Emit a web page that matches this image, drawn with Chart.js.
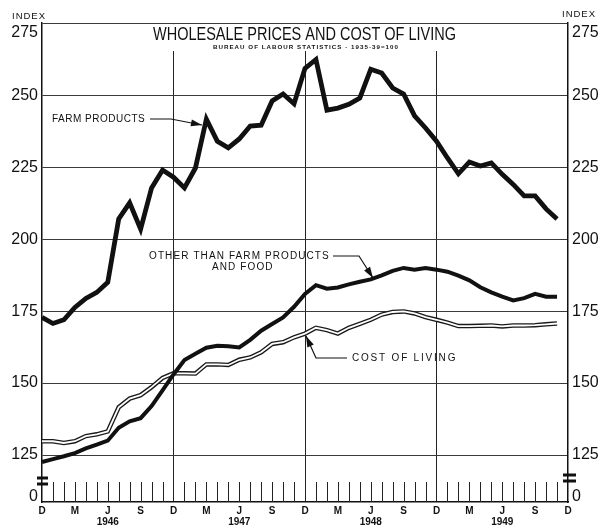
<!DOCTYPE html>
<html>
<head>
<meta charset="utf-8">
<script src="https://cdn.jsdelivr.net/npm/chart.js@4.4.0/dist/chart.umd.min.js"></script>
<style>
body { margin: 0; background: #fff; }
</style>
</head>
<body>
<canvas id="mycanvas" width="609" height="529"></canvas>
<script>
// months Dec 1945 .. Dec 1949
var monthNames = ['Jan','Feb','Mar','Apr','May','Jun','Jul','Aug','Sep','Oct','Nov','Dec'];
var months = ['Dec 1945'];
for (var yr = 1946; yr <= 1949; yr++) {
	for (var m = 0; m < 12; m++) months.push(monthNames[m] + ' ' + yr);
}

var farmProducts = [172.8,170.7,172.0,176.3,179.4,181.5,185.0,207.0,212.6,203.5,
	217.8,224.0,221.5,217.8,224.7,241.7,234.0,231.7,234.8,239.3,
	239.6,248.0,250.4,247.0,259.3,262.4,244.8,245.5,246.8,249.0,
	259.0,257.7,252.5,250.4,242.8,238.6,234.0,228.2,222.7,226.8,
	225.4,226.5,222.5,219.0,215.0,215.0,210.5,207.0];
var otherThanFarm = [122.6,123.6,124.6,125.7,127.3,128.6,130.0,134.5,136.7,137.8,
	142.0,147.5,153.0,158.0,160.2,162.3,163.0,162.8,162.4,165.0,
	168.2,170.5,172.8,176.5,181.0,184.0,182.8,183.2,184.3,185.2,
	186.0,187.4,189.0,190.0,189.4,190.0,189.4,188.7,187.3,185.7,
	183.3,181.5,180.0,178.7,179.5,181.0,180.0,180.0];
var costOfLiving = [129.8,129.8,129.2,129.8,131.6,132.2,133.2,141.6,144.6,145.8,
	148.6,151.8,153.4,153.4,153.3,156.5,156.5,156.3,158.1,158.9,
	160.7,163.6,164.2,165.9,167.2,169.2,168.4,167.2,169.2,170.6,
	172.0,173.8,174.7,174.9,174.2,172.9,172.0,171.0,169.8,169.8,
	169.9,170.0,169.7,170.0,170.0,170.1,170.4,170.7];

var yTicks = [0, 125, 150, 175, 200, 225, 250, 275];
var yMin = 108.7, yMax = 275, zeroPos = 110.5; // broken axis: "0" sits just above the bottom

Chart.defaults.font.family = "'Liberation Sans', Arial, sans-serif";
Chart.defaults.color = '#111';

function monthLabel(i) {
	var lab = months[i];
	if (!lab) return '';
	var mon = lab.slice(0, 3);
	if (mon === 'Dec') return 'D';
	if (mon === 'Mar') return 'M';
	if (mon === 'Jun') return ['J', lab.slice(4)];
	if (mon === 'Sep') return 'S';
	return '';
}

function yAxis(pos, w) {
	return {
		type: 'linear',
		position: pos,
		min: yMin,
		max: yMax,
		afterBuildTicks: function(scale) {
			scale.ticks = yTicks.map(function(v){ return { value: v === 0 ? zeroPos : v }; });
		},
		afterFit: function(scale) { scale.width = w; },
		ticks: {
			padding: 4,
			font: { size: 16 },
			color: '#111',
			callback: function(value) {
				if (value === zeroPos) return '0';
				if (value === 275) return ['', '275'];
				return String(value);
			}
		},
		grid: {
			display: pos === 'left',
			drawTicks: false,
			color: function(ctx) {
				return ctx.tick && ctx.tick.value === zeroPos ? 'rgba(0,0,0,0)' : '#3a3a3a';
			},
			lineWidth: 1
		},
		border: { display: true, color: '#111', width: 1.5 }
	};
}

function arrow(ctx, pts) {
	ctx.beginPath();
	ctx.moveTo(pts[0][0], pts[0][1]);
	for (var i = 1; i < pts.length; i++) ctx.lineTo(pts[i][0], pts[i][1]);
	ctx.stroke();
	var a = pts[pts.length - 2], b = pts[pts.length - 1];
	var ang = Math.atan2(b[1] - a[1], b[0] - a[0]);
	var len = 11, wid = 3.5;
	ctx.beginPath();
	ctx.moveTo(b[0], b[1]);
	ctx.lineTo(b[0] - len * Math.cos(ang) - wid * Math.sin(ang), b[1] - len * Math.sin(ang) + wid * Math.cos(ang));
	ctx.lineTo(b[0] - len * Math.cos(ang) + wid * Math.sin(ang), b[1] - len * Math.sin(ang) - wid * Math.cos(ang));
	ctx.closePath();
	ctx.fill();
}

function squeezeText(ctx, text, cx, cy, targetW) {
	var w = ctx.measureText(text).width;
	ctx.save();
	ctx.translate(cx, cy);
	ctx.scale(targetW / w, 1);
	ctx.textAlign = 'center';
	ctx.textBaseline = 'middle';
	ctx.fillText(text, 0, 0);
	ctx.restore();
}

var decor = {
	id: 'decor',
	beforeDatasetsDraw: function(chart) {
		var ctx = chart.ctx, area = chart.chartArea, xs = chart.scales.x;
		ctx.save();
		// blank band under the title
		ctx.fillStyle = '#fff';
		ctx.fillRect(area.left + 1, area.top + 1, area.width - 2, 50 - area.top);
		// small month ticks along the bottom
		ctx.strokeStyle = '#222';
		ctx.lineWidth = 1;
		for (var i = 1; i < months.length - 1; i++) {
			if (months[i].indexOf('Dec') === 0) continue;
			var x = Math.round(xs.getPixelForValue(i)) + 0.5;
			ctx.beginPath();
			ctx.moveTo(x, area.bottom - 20);
			ctx.lineTo(x, area.bottom);
			ctx.stroke();
		}
		ctx.restore();
	},
	afterDraw: function(chart) {
		var ctx = chart.ctx;
		ctx.save();
		ctx.fillStyle = '#111';
		ctx.strokeStyle = '#111';

		ctx.font = "18px 'Liberation Sans'";
		squeezeText(ctx, 'WHOLESALE PRICES AND COST OF LIVING', 304.5, 35, 303);
		ctx.font = "bold 6px 'Liberation Sans'";
		ctx.letterSpacing = '1px';
		squeezeText(ctx, 'BUREAU OF LABOUR STATISTICS \u00b7 1935-39=100', 306, 47, 186);

		ctx.font = "9.5px 'Liberation Sans'";
		ctx.letterSpacing = '1px';
		ctx.textBaseline = 'middle';
		ctx.textAlign = 'left';
		ctx.fillText('INDEX', 12, 16);
		ctx.fillText('INDEX', 562, 14);

		ctx.font = "10px 'Liberation Sans'";
		ctx.letterSpacing = '0.5px';
		ctx.fillText('FARM PRODUCTS', 52, 119);
		ctx.letterSpacing = '1.1px';
		ctx.fillText('OTHER THAN FARM PRODUCTS', 149, 256);
		ctx.fillText('AND FOOD', 212, 267);
		ctx.letterSpacing = '1.8px';
		ctx.fillText('COST OF LIVING', 352, 358);
		ctx.letterSpacing = '0px';

		ctx.lineWidth = 1.2;
		arrow(ctx, [[150, 119], [171, 119], [202, 125]]);
		arrow(ctx, [[333, 256], [359, 256], [373, 278]]);
		arrow(ctx, [[347, 358], [316, 358], [306, 336]]);

		// axis break marks
		ctx.lineWidth = 3;
		[[37, 48, 478], [37, 48, 484], [563, 576, 475], [563, 576, 481]].forEach(function(b){
			ctx.beginPath();
			ctx.moveTo(b[0], b[2]);
			ctx.lineTo(b[1], b[2]);
			ctx.stroke();
		});
		ctx.restore();
	}
};

var chartdata = {
	labels: months,
	datasets: [
		{ label: 'Cost of living', data: costOfLiving, borderColor: '#1a1a1a', borderWidth: 4.5 },
		{ label: 'Cost of living (inner)', data: costOfLiving, borderColor: '#fff', borderWidth: 1.8 },
		{ label: 'Other than farm products and food', data: otherThanFarm, borderColor: '#111', borderWidth: 4 },
		{ label: 'Farm products', data: farmProducts, borderColor: '#111', borderWidth: 4.8 }
	]
};
chartdata.datasets.forEach(function(d){
	d.fill = false;
	d.pointRadius = 0;
	d.tension = 0;
	d.yAxisID = 'y';
	d.borderJoinStyle = 'miter';
});
// draw order: thick cost outline first, white core on top, then the solid lines
chartdata.datasets.forEach(function(d, i){ d.order = 4 - i; });

var ctx = document.getElementById('mycanvas');
var lineGraph = new Chart(ctx, {
	type: 'line',
	data: chartdata,
	plugins: [decor],
	options: {
		responsive: false,
		animation: false,
		layout: { padding: { top: 22, left: 0, right: 0, bottom: 0 } },
		plugins: { legend: { display: false }, tooltip: { enabled: false } },
		scales: {
			x: {
				type: 'category',
				offset: false,
				afterFit: function(scale) { scale.height = 27; },
				ticks: {
					autoSkip: false,
					maxRotation: 0,
					padding: 4,
					font: { size: 10, weight: 'bold', lineHeight: 1.1 },
					color: '#111',
					callback: function(value, index) { return monthLabel(index); }
				},
				grid: {
					drawTicks: false,
					color: function(c) {
						var i = c.index;
						return (i > 0 && i < months.length - 1 && months[i].indexOf('Dec') === 0) ? '#222' : 'rgba(0,0,0,0)';
					},
					lineWidth: 1
				},
				border: { display: true, color: '#111', width: 1.5 }
			},
			y: yAxis('left', 42),
			y2: yAxis('right', 41)
		}
	}
});
</script>
</body>
</html>
